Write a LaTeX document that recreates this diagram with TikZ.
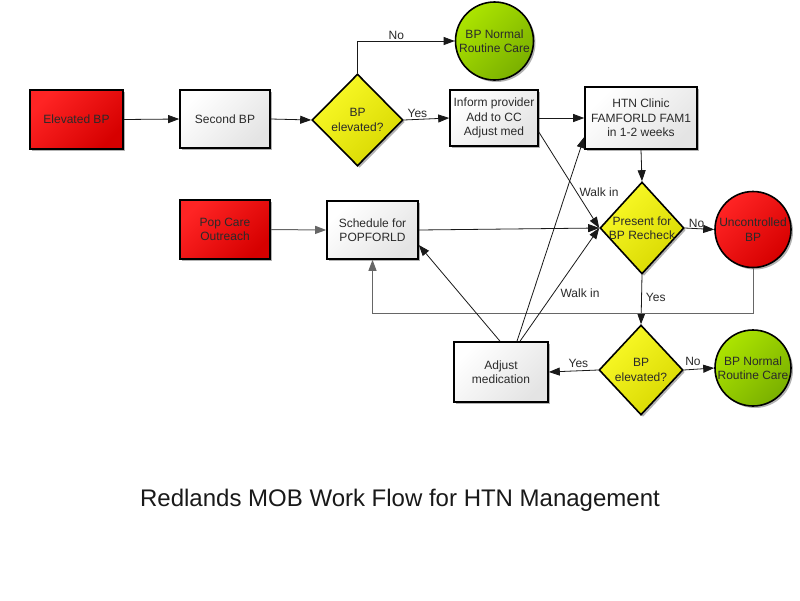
\documentclass[tikz,border=0pt]{standalone}
\usepackage{fontspec}
\setmainfont{Liberation Sans}
\usetikzlibrary{shapes.geometric,shadows,arrows.meta,calc}
\definecolor{rL}{HTML}{FF2424}
\definecolor{rD}{HTML}{D60000}
\definecolor{yL}{HTML}{FAFA28}
\definecolor{yD}{HTML}{D8D800}
\definecolor{gL}{HTML}{ACE400}
\definecolor{gD}{HTML}{7AB000}
\definecolor{wD}{HTML}{E4E4E4}
\definecolor{txtc}{HTML}{2A2A2A}
\begin{document}
\begin{tikzpicture}[x=1pt,y=-1pt,
  >={Triangle[length=11pt,width=8pt]},
  txt/.style={align=center,font=\fontsize{12}{14.5}\selectfont,text=txtc},
  sh/.style={drop shadow={shadow xshift=2pt,shadow yshift=-2pt,fill=black,opacity=0.3}},
  base/.style={sh,draw=black,line width=1.6pt,inner sep=0pt,txt},
  redbox/.style={base,rectangle,top color=rL,bottom color=rD,shading angle=45},
  whitebox/.style={base,rectangle,top color=white,bottom color=wD,shading angle=45},
  ydia/.style={base,diamond,top color=yL,bottom color=yD,shading angle=45},
  rcirc/.style={base,circle,top color=rL,bottom color=rD,shading angle=45},
  gcirc/.style={base,circle,top color=gL,bottom color=gD,shading angle=45},
  conn/.style={draw=black!90,line width=0.8pt,->},
  gconn/.style={draw=black!60,line width=1pt,->},
  lab/.style={font=\fontsize{12}{14}\selectfont,text=txtc,inner sep=1pt}
]
\useasboundingbox (0,0) rectangle (800,600);
\fill[white] (0,0) rectangle (800,600);

% nodes
\node[redbox,minimum width=93pt,minimum height=59pt] (eb) at (76.5,119.5) {Elevated BP};
\node[whitebox,minimum width=90pt,minimum height=58pt] (sb) at (225,119) {Second BP};
\node[ydia,minimum width=91pt,minimum height=92pt,label={[txt]center:BP\\elevated?}] (d1) at (357.5,120) {};
\node[gcirc,minimum size=78pt,label={[txt]center:BP Normal\\Routine Care}] (n1) at (494.5,41) {};
\node[whitebox,minimum width=88pt,minimum height=56pt] (ip) at (494,118) {Inform provider\\Add to CC\\Adjust med};
\node[whitebox,minimum width=112pt,minimum height=62pt] (htn) at (641,118) {HTN Clinic\\FAMFORLD FAM1\\in 1-2 weeks};
\node[ydia,minimum width=84pt,minimum height=92pt,label={[txt]center:Present for\\BP Recheck}] (d2) at (642,228) {};
\node[rcirc,minimum size=76pt,label={[txt]center:Uncontrolled\\BP}] (uc) at (753,229.5) {};
\node[redbox,minimum width=90pt,minimum height=59pt] (pc) at (225,229.5) {Pop Care\\Outreach};
\node[whitebox,minimum width=91pt,minimum height=58pt] (sc) at (372.5,230) {Schedule for\\POPFORLD};
\node[whitebox,minimum width=94pt,minimum height=60pt] (am) at (501,372) {Adjust\\medication};
\node[ydia,minimum width=84pt,minimum height=90pt,label={[txt]center:BP\\elevated?}] (d3) at (641,370) {};
\node[gcirc,minimum size=76pt,label={[txt]center:BP Normal\\Routine Care}] (n2) at (753,368) {};

% title
\node[font=\fontsize{24}{28}\selectfont,text=black!90] (title) at (400,500) {Redlands MOB Work Flow for HTN Management};

% connectors
\draw[conn] (eb.east) -- (sb.west);
\draw[conn] (sb.east) -- (d1.west);
\draw[conn] (d1.north) |- node[lab,pos=0.7,above] {No} (n1.west);
\draw[conn] (d1.east) -- node[lab,above,pos=0.3] {Yes} (ip.west);
\draw[conn] (ip.east) -- (htn.west);
\draw[conn] (htn.south) -- (d2.north);
\draw[conn] ($(ip.east)+(0,14)$) -- (d2.west);
\node[lab] (wi1) at (599,192) {Walk in};
\draw[gconn] (pc.east) -- (sc.west);
\draw[conn] (sc.east) -- (d2.west);
\draw[conn] (d2.east) -- node[lab,above,pos=0.4] {No} (uc.west);
\draw[conn] (d2.south) -- node[lab,right,pos=0.45,xshift=3pt] {Yes} (d3.north);
\draw[gconn] (uc.south) -- ++(0,45) -| (sc.south);
\draw[conn] (d3.west) -- node[lab,above,pos=0.4,yshift=2pt] {Yes} (am.east);
\draw[conn] (d3.east) -- node[lab,above,pos=0.3,yshift=2pt] {No} (n2.west);
\draw[conn] ($(am.north)+(-1,0)$) -- ($(sc.east)+(0,15)$);
\draw[conn] ($(am.north)+(16,0)$) -- ($(htn.west)+(0,19)$);
\draw[conn] ($(am.north)+(19,0)$) -- (d2.west);
\node[lab] (wi2) at (580,293) {Walk in};
\end{tikzpicture}
\end{document}
